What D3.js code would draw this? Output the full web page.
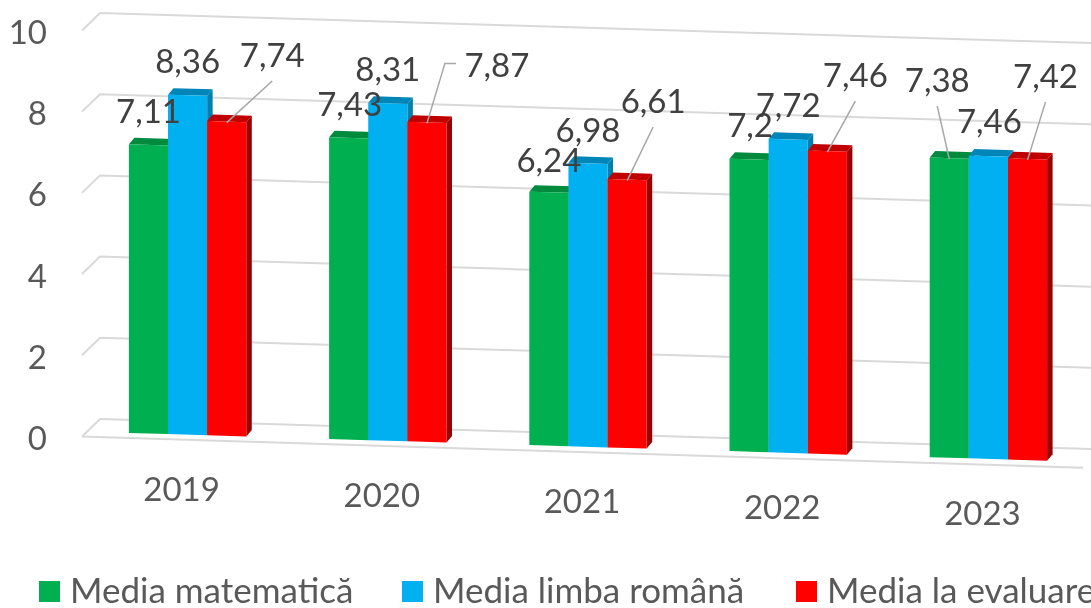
<!DOCTYPE html>
<html>
<head>
<meta charset="utf-8">
<script src="https://cdn.jsdelivr.net/npm/d3@7"></script>
<style>
html,body{margin:0;padding:0;background:#fff;overflow:hidden}
svg{display:block;filter:blur(0.5px)}
text{font-family:Lato,"Noto Sans",sans-serif}
</style>
</head>
<body>
<div id="chart"></div>
<script>
const years = ["2019","2020","2021","2022","2023"];
const seriesNames = ["Media matematică","Media limba română","Media la evaluare"];
const mathValues = [7.11,7.43,6.24,7.2,7.38];
const romanianValues = [8.36,8.31,6.98,7.72,7.46];
const evaluationValues = [7.74,7.87,6.61,7.46,7.42];
const tickValues = [0,2,4,6,8,10];

// Manually placed data labels in the original: offset from the top of each bar [dx, dy].
const labelOffsets = [
  [[0,-22],[1,-22],[0,-20],[1,-22],[-12,-66]],
  [[0,-22],[0,-22],[0,-21],[0,-22],[1,-23]],
  [[45.5,-54.6],[70,-45],[26,-66.6],[28,-64],[18,-71]]
];

const W = 1091, H = 608;
const colors = [
  {front:"#00B050",top:"#008A3E",side:"#007A38"},
  {front:"#00B0F0",top:"#0085B8",side:"#0080AE"},
  {front:"#FF0000",top:"#C00000",side:"#990000"}
];
const slope = 0.0303, frontDrop = 13, depthX = 5.5, depthY = 6.5;

const svg = d3.select("#chart").append("svg").attr("width",W).attr("height",H).attr("viewBox",[0,0,W,H]);

const yScale = d3.scaleLinear().domain([0,10]).range([419,13]);
const x0 = d3.scaleBand().domain(years).range([87.5,1088.5]).paddingInner(0.4137).paddingOuter(0.2068);
const x1 = d3.scaleBand().domain(d3.range(3)).range([0,x0.bandwidth()]);
const skew = x => slope*(x-100);
const py = (x,v,d=frontDrop) => yScale(v)+skew(x)+d;

// gridlines, with the wall-to-floor stub at the left
const grid = svg.append("g").attr("fill","none").attr("stroke","#D9D9D9").attr("stroke-width",2);
grid.selectAll("path").data(tickValues).join("path")
  .attr("d",v=>d3.line()([[82,py(82,v,0)+18],[100,py(100,v,0)],[1120,py(1120,v,0)]]));
grid.append("path").attr("d",d3.line()([[82,py(82,0,0)+18],[1083,py(1083,0,19)]]));

// y axis labels
svg.append("g").attr("fill","#595959").attr("font-size",33).attr("text-anchor","end")
  .selectAll("text").data(tickValues).join("text")
  .attr("x",47).attr("y",v=>yScale(v)+31).text(v=>v);

// x axis labels
svg.append("g").attr("fill","#595959").attr("font-size",33).attr("text-anchor","middle")
  .selectAll("text").data(years).join("text")
  .attr("x",d=>x0(d)+x0.bandwidth()/2-6)
  .attr("y",d=>py(x0(d)+x0.bandwidth()/2,0)+66)
  .text(d=>d);

// bars
const allSeries = [mathValues,romanianValues,evaluationValues];
const anchors = [];
years.forEach((yr,j)=>{
  const g = svg.append("g");
  allSeries.forEach((vals,i)=>{
    const v = vals[j], xl = x0(yr)+x1(i), xr = xl+x1.bandwidth(), c = colors[i];
    const tl=[xl,py(xl,v)], tr=[xr,py(xr,v)], bl=[xl,py(xl,0)], br=[xr,py(xr,0)];
    const back = p=>[p[0]+depthX,p[1]-depthY];
    g.append("path").attr("fill",c.side).attr("d",d3.line()([tr,back(tr),back(br),br])+"Z");
    g.append("path").attr("fill",c.top).attr("d",d3.line()([tl,back(tl),back(tr),tr])+"Z");
    g.append("path").attr("fill",c.front).attr("d",d3.line()([tl,tr,br,bl])+"Z");
    anchors.push({i,j,v,cx:(xl+xr)/2,top:py((xl+xr)/2,v)});
  });
});

// leader lines and data labels
const labelFmt = v => String(v).replace(".",",");
const leaders = svg.append("g").attr("fill","none").attr("stroke","#A6A6A6").attr("stroke-width",1.5);
anchors.forEach(a=>{
  const [dx,dy] = labelOffsets[a.i][a.j];
  const lx = a.cx+dx, ly = a.top+dy;
  if (dy < -30) {
    const pts = (a.i===2 && a.j===1)
      ? [[lx-41,ly-14],[lx-52,ly-14],[a.cx,a.top+1]]
      : [[lx,ly+14],[a.cx,a.top+1]];
    leaders.append("path").attr("d",d3.line()(pts));
  }
});
svg.append("g").attr("fill","#404040").attr("font-size",33).attr("text-anchor","middle")
  .selectAll("text").data(anchors).join("text")
  .attr("x",a=>a.cx+labelOffsets[a.i][a.j][0])
  .attr("y",a=>a.top+labelOffsets[a.i][a.j][1])
  .text(a=>labelFmt(a.v));

// legend
const legendX = d3.scaleOrdinal().domain(seriesNames).range([39,402,796]);
const legend = svg.append("g").selectAll("g").data(seriesNames).join("g")
  .attr("transform",d=>`translate(${legendX(d)},581)`);
legend.append("rect").attr("width",21).attr("height",21).attr("fill",(d,i)=>colors[i].front);
legend.append("text").attr("x",31).attr("y",22).attr("font-size",35).attr("fill","#595959").text(d=>d);
</script>
</body>
</html>
